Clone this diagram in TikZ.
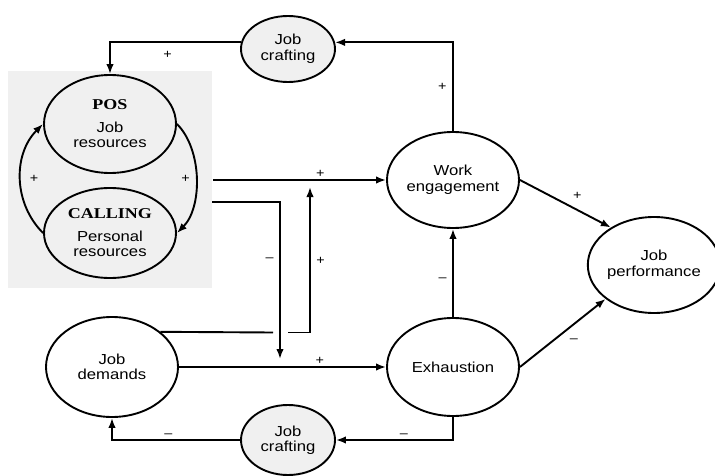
\documentclass[tikz,border=0pt]{standalone}
\usepackage{fontspec}
\setmainfont{Liberation Sans}[FakeStretch=1.15]
\newfontfamily\timesbf{Liberation Serif}[FakeStretch=1.2]
\usetikzlibrary{arrows.meta, shapes.geometric}
\tikzset{
    >={Latex[length=10pt,width=7.5pt]}, % filled triangular arrow heads
    var/.style={draw, ellipse, inner sep=0pt, align=center, minimum width=132pt, minimum height=98pt, font=\fontsize{14.5}{15.5}\selectfont}, % sets the look of each construct
    craft/.style={var, fill=gray!12, minimum width=94pt, minimum height=66pt}, % the two job crafting loops
    sign/.style={font=\fontsize{12.5}{12.5}\selectfont, inner sep=1.5pt}, % + and - on the paths
}

\begin{document}
\begin{tikzpicture}[x=1pt, y=1pt, line width=1.9pt]
            \useasboundingbox (0,0) rectangle (715,-476);
            \node[fill=gray!12, inner sep=0pt, minimum width=204pt, minimum height=217pt] (box) at (110,-179.5) {};
            \node[var] (pos) at (110,-124) {{\timesbf\bfseries\fontsize{15}{16}\selectfont POS}\\[7pt]Job\\resources};
            \node[var, minimum height=90pt] (call) at (110,-233) {{\timesbf\bfseries\fontsize{15}{16}\selectfont CALLING}\\[7pt]Personal\\resources};
            \node[var, minimum height=96pt] (we) at (453,-180) {Work\\engagement};
            \node[var] (ex) at (453,-367) {Exhaustion};
            \node[var, minimum width=122pt, minimum height=96pt] (jp) at (654,-265) {Job\\performance};
            \node[var, minimum height=100pt] (jd) at (112,-367) {Job\\demands};
            \node[craft] (jc1) at (288,-49) {Job\\crafting};
            \node[craft, minimum height=70pt] (jc2) at (288,-440) {Job\\crafting};

            \coordinate (negout) at (212,-202);
            \coordinate (negin) at (280,-359);
            \coordinate (gapl) at (273,-332.5);
            \coordinate (gapr) at (288,-332.5);
            \coordinate (posin) at (310,-187);

            \path[->]
                (call.west) edge[out=135, in=225] node[sign, right=7pt] {+} (pos.west)
                (pos.east) edge[out=-45, in=45, looseness=0.85] node[sign, left=4pt] {+} (call.east)
                (box.east |- we.west) edge node[sign, above, pos=0.62] {+} (we.west)
                (jd) edge node[sign, above, pos=0.68] {+} (ex)
                (ex) edge node[sign, left=4pt, pos=0.42] {--} (we)
                (we.east) edge node[sign, above=8pt, pos=0.63] {+} (jp.139)
                (ex.east) edge node[sign, below=12pt, pos=0.63] {--} (jp.215);

            \draw[->] (we.north) |- node[sign, left=4pt, pos=0.25] {+} (jc1.8);
            \draw[->] (jc1.172) -| node[sign, below=6pt, pos=0.28] {+} (pos.north);
            \draw[->] (ex.south) |- node[sign, above, pos=0.71] {--} (jc2.east);
            \draw[->] (jc2.west) -| node[sign, above, pos=0.28] {--} (jd.south);
            \draw[->] (negout) -| node[sign, left=4pt, pos=0.685] {--} (negin);
            \draw (jd.36) -- (gapl);
            \draw[->] (gapr) -| node[sign, right=4pt, pos=0.745] {+} (posin);
        \end{tikzpicture}
\end{document}
